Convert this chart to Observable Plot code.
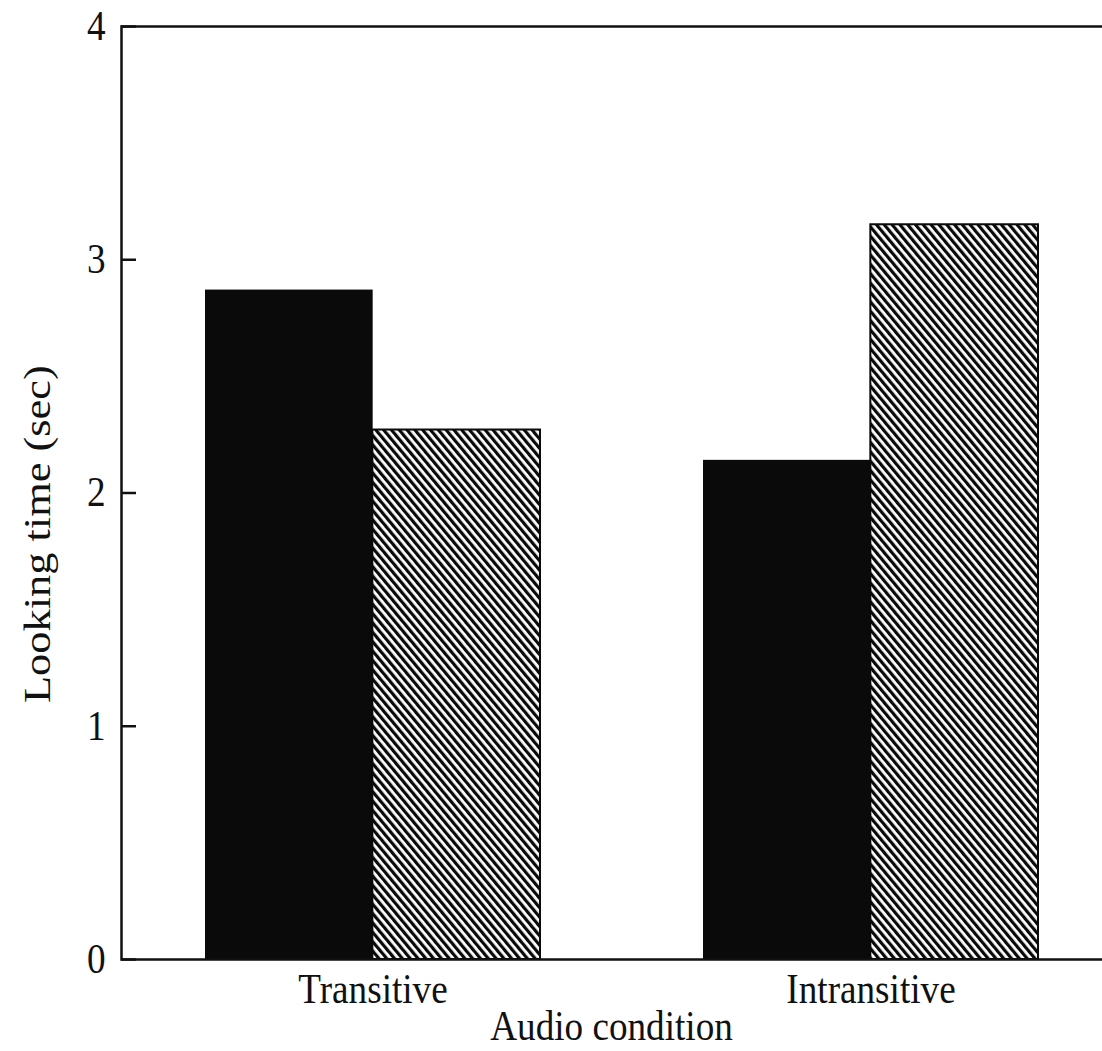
<!DOCTYPE html>
<html><head><meta charset="utf-8">
<script src="https://cdn.jsdelivr.net/npm/d3@7"></script>
<script src="https://cdn.jsdelivr.net/npm/@observablehq/plot@0.6"></script>
<style>
html,body{margin:0;padding:0;background:#fff;overflow:hidden;}
#chart{width:1102px;height:1051px;overflow:hidden;}
</style></head><body><div id="chart"></div>
<script>
// ---- data ----
const categories = ["Transitive", "Intransitive"];
const solidValues = [2.87, 2.14];
const hatchedValues = [2.27, 3.15];
const yTicks = [0, 1, 2, 3, 4];
const xTitle = "Audio condition";
const yTitle = "Looking time (sec)";

// ---- layout ----
const W = 1121, H = 1051, mL = 121, mR = 0, mT = 26, mB = 92;
const padIn = 0.328, padOut = 0.168;
const bw = Plot.scale({x: {type: "band", domain: categories, range: [mL, W - mR], paddingInner: padIn, paddingOuter: padOut}}).bandwidth;

const solidData = categories.map((c, i) => ({category: c, value: solidValues[i]}));
const hatchedData = categories.map((c, i) => ({category: c, value: hatchedValues[i]}));

const ink = "#0a0a0a";
const chart = Plot.plot({
  width: W, height: H,
  marginLeft: mL, marginRight: mR, marginTop: mT, marginBottom: mB,
  style: {fontFamily: "'Liberation Serif', 'Times New Roman', serif", fontSize: "42px", color: "#111", background: "#fff", maxWidth: "none"},
  x: {type: "band", domain: categories, paddingInner: padIn, paddingOuter: padOut, tickSize: 0, tickPadding: 14, label: null},
  y: {domain: [0, 4], ticks: yTicks, tickFormat: d => String(d), tickSize: 0, tickPadding: 16, label: null},
  marks: [
    Plot.barY(solidData, {x: "category", y: "value", fill: ink, insetRight: bw / 2}),
    Plot.barY(hatchedData, {x: "category", y: "value", fill: "url(#hatch)", stroke: ink, strokeWidth: 2, insetLeft: bw / 2}),
    Plot.ruleY(yTicks, {insetRight: (W - mL - mR) - 15, stroke: "#111", strokeWidth: 2.5}),
    Plot.frame({stroke: "#111", strokeWidth: 2.5}),
    Plot.text([xTitle], {frameAnchor: "bottom", dx: -10, dy: 80, fontSize: 42, fill: "#111"}),
    Plot.text([yTitle], {frameAnchor: "left", rotate: -90, textAnchor: "start", dx: -83, dy: 210, fontSize: 37, fill: "#111"})
  ]
});

// hatch pattern (diagonal "\" lines)
const ns = "http://www.w3.org/2000/svg";
const defs = document.createElementNS(ns, "defs");
defs.innerHTML = '<pattern id="hatch" patternUnits="userSpaceOnUse" width="6" height="10" patternTransform="rotate(-39.8)">' +
  '<rect width="6" height="10" fill="#fff"/><rect x="0" width="3.2" height="10" fill="' + ink + '"/></pattern>';
chart.insertBefore(defs, chart.firstChild);

document.getElementById("chart").append(chart);

// the reference scan is stretched vertically: compress horizontal text, stretch the rotated title
chart.querySelectorAll("text").forEach(t => {
  const len = t.getComputedTextLength();
  const k = t.textContent === yTitle ? 1.2 : 0.885;
  t.setAttribute("textLength", (len * k).toFixed(1));
  t.setAttribute("lengthAdjust", "spacingAndGlyphs");
});
</script>
</body></html>
